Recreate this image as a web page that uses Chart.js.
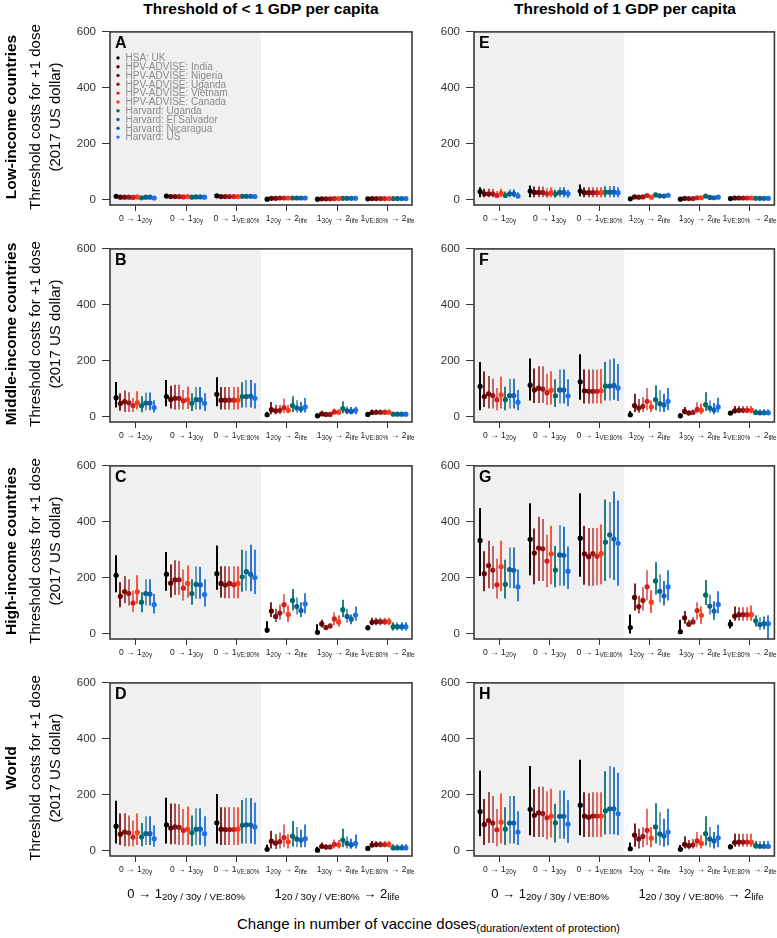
<!DOCTYPE html>
<html><head><meta charset="utf-8">
<script src="https://cdn.jsdelivr.net/npm/chart.js@4/dist/chart.umd.min.js"></script>
<style>
body{margin:0;background:#fff;font-family:"Liberation Sans",Arial,sans-serif;}
#wrap{position:relative;width:777px;height:938px;overflow:hidden;background:#fff;}
canvas{position:absolute;}
.t{position:absolute;white-space:nowrap;color:#000;}
.rot{transform:translate(-50%,-50%) rotate(-90deg);}
.ctr{transform:translate(-50%,-50%);}
sub{font-size:0.75em;vertical-align:-0.25em;line-height:0;}
</style></head>
<body><div id="wrap">
<div class="t ctr" style="left:261px;top:9px;font-weight:bold;font-size:15.5px">Threshold of &lt; 1 GDP per capita</div>
<div class="t ctr" style="left:625px;top:9px;font-weight:bold;font-size:15.5px">Threshold of 1 GDP per capita</div>
</div>
<script>
// ---------- categories ----------
const models = ['HSA: UK','HPV-ADVISE: India','HPV-ADVISE: Nigeria','HPV-ADVISE: Uganda','HPV-ADVISE: Vietnam','HPV-ADVISE: Canada','Harvard: Uganda','Harvard: El Salvador','Harvard: Nicaragua','Harvard: US'];
const groupLabels = [
  [['0 → 1',0],['20y',1]],
  [['0 → 1',0],['30y',1]],
  [['0 → 1',0],['VE:80%',1]],
  [['1',0],['20y',1],[' → 2',0],['life',1]],
  [['1',0],['30y',1],[' → 2',0],['life',1]],
  [['1',0],['VE:80%',1],[' → 2',0],['life',1]]
];
const rowLabels = ['Low-income countries','Middle-income countries','High-income countries','World'];
const yTicks = [0,200,400,600];

// ---------- series values: [group][model] ----------
const A_mid=[[11,8,8,8,7,9,6,8,8,5],[12,10,10,10,9,10,8,9,9,8],[13,10,10,10,10,10,11,11,11,10],[1,4,4,5,5,5,5,5,5,5],[1,2,2,2,3,3,4,4,4,4],[2,3,3,3,3,3,3,3,3,3]];
const A_lo=[[7,5,5,5,4,6,3,5,5,3],[8,6,6,6,5,6,5,5,5,5],[8,6,6,6,6,6,7,7,7,6],[0,3,3,3,3,3,3,3,3,3],[0,1,1,1,2,2,2,2,2,2],[1,2,2,2,2,2,2,2,2,2]];
const A_hi=[[16,12,12,12,11,13,10,12,12,9],[18,14,14,14,13,14,12,13,13,12],[19,14,14,14,14,14,16,16,16,15],[3,6,6,7,8,7,8,7,7,7],[2,4,4,4,5,5,6,6,6,6],[3,4,4,4,4,4,4,4,4,4]];

const B_mid=[[67,46,53,49,39,49,38,48,48,32],[71,61,65,65,56,60,47,60,60,47],[79,58,58,58,58,58,71,71,73,65],[6,24,20,22,32,22,39,31,27,34],[2,9,7,7,16,15,28,20,18,22],[7,14,15,15,15,15,8,8,8,8]];
const B_lo=[[32,20,16,16,16,25,15,22,22,14],[36,28,25,25,25,27,19,25,25,19],[36,25,25,25,25,25,32,32,32,28],[0,8,8,8,11,11,16,13,13,14],[0,2,2,2,8,7,11,8,8,8],[1,6,6,6,6,6,3,3,3,3]];
const B_hi=[[123,83,93,87,66,90,72,86,86,58],[130,110,113,113,95,107,83,105,105,83],[140,105,105,105,105,105,122,130,130,119],[16,52,42,42,64,40,72,58,52,66],[10,20,16,16,28,26,54,36,34,35],[14,25,25,25,25,25,14,14,14,14]];

const C_mid=[[208,133,150,143,109,149,112,143,141,103],[212,180,192,192,162,179,143,176,174,139],[214,179,173,179,174,179,203,221,212,200],[12,80,61,73,103,68,118,96,82,106],[4,34,21,27,52,41,85,61,51,66],[20,40,42,42,42,42,24,24,24,24]];
const C_lo=[[147,94,108,100,76,106,76,100,100,71],[153,129,138,138,118,129,103,124,124,96],[156,129,126,126,126,126,149,153,151,141],[2,59,41,49,71,41,82,68,59,71],[0,21,14,18,29,24,59,38,33,45],[12,29,29,29,29,29,10,10,10,10]];
const C_hi=[[280,183,206,194,153,208,147,194,194,141],[292,247,262,259,229,243,194,241,239,194],[315,241,241,241,241,241,300,296,318,300],[44,112,88,104,141,100,159,129,112,144],[33,49,29,35,76,65,121,88,68,96],[29,56,56,56,56,56,40,40,40,40]];

const D_mid=[[87,58,66,63,48,64,48,60,60,42],[92,80,84,83,71,76,63,76,76,60],[99,76,75,75,75,76,90,92,92,84],[4,33,26,32,46,31,51,41,37,42],[1,15,12,12,22,20,37,25,20,25],[7,19,21,21,21,21,9,9,9,9]];
const D_lo=[[25,19,15,15,15,19,15,19,19,13],[25,22,22,19,19,19,15,19,19,15],[25,19,19,19,19,19,25,25,25,22],[0,7,5,7,11,7,13,11,11,11],[0,6,4,4,7,7,11,7,6,7],[1,11,11,11,11,11,4,4,4,4]];
const D_hi=[[178,132,133,125,107,132,98,122,122,90],[189,168,168,165,148,157,125,151,151,122],[202,155,155,155,155,155,181,188,188,172],[20,70,58,64,93,58,105,84,74,93],[13,28,22,22,39,37,78,51,42,57],[15,34,34,34,34,34,22,22,22,22]];

const E_mid=[[28,20,20,20,14,22,14,20,20,12],[30,25,25,25,20,24,19,25,25,20],[30,24,24,24,24,24,26,26,26,24],[2,9,8,9,14,8,16,13,12,15],[1,4,3,3,6,6,12,7,6,8],[3,5,5,5,5,5,4,4,4,4]];
const E_lo=[[8,8,8,8,6,8,6,8,8,5],[8,8,8,8,6,8,6,8,8,6],[11,8,8,8,8,8,8,8,8,8],[0,5,4,5,8,4,8,6,6,7],[0,2,2,2,3,3,8,4,4,5],[1,4,4,4,4,4,3,3,3,3]];
const E_hi=[[44,38,38,38,30,38,28,36,36,26],[50,46,46,46,40,44,35,44,44,35],[53,44,44,44,44,44,47,48,48,44],[5,14,12,14,20,14,24,20,18,22],[3,6,5,5,9,9,17,11,9,12],[5,8,8,8,8,8,6,6,6,6]];

const F_mid=[[108,71,81,75,60,77,60,75,75,51],[112,95,101,98,85,94,74,95,95,74],[124,92,90,90,90,92,109,109,111,102],[6,39,30,36,54,34,60,46,41,54],[2,18,12,14,25,22,42,30,23,34],[12,20,22,22,22,22,14,13,13,13]];
const F_lo=[[22,34,28,28,22,28,22,28,28,22],[57,48,48,48,41,43,34,46,46,36],[60,46,46,46,46,46,57,57,60,55],[0,16,13,16,22,16,22,16,16,22],[0,8,5,6,11,8,19,13,8,14],[5,11,11,11,11,11,7,7,7,7]];
const F_hi=[[195,161,145,135,102,142,106,135,135,95],[207,172,180,180,153,162,133,168,168,133],[223,168,168,168,168,170,195,204,207,188],[19,81,62,69,102,57,112,95,81,102],[11,34,22,25,51,46,87,57,48,67],[19,37,37,37,37,37,26,26,26,26]];

const G_mid=[[333,214,243,227,174,239,176,229,226,167],[337,288,306,303,259,285,227,281,280,223],[341,285,275,286,276,286,327,353,338,323],[21,129,96,118,167,112,188,151,135,167],[6,56,33,41,82,65,138,98,80,104],[33,62,67,67,67,67,45,32,35,35]];
const G_lo=[[206,151,162,159,125,151,125,162,162,115],[208,176,188,188,165,176,165,171,171,159],[203,174,171,171,173,176,188,198,191,171],[0,82,71,82,118,73,139,112,100,118],[0,35,24,35,49,35,102,68,49,71],[18,45,45,45,45,45,24,12,14,-30]];
const G_hi=[[449,294,332,313,268,332,264,308,308,229],[466,376,418,410,353,386,313,388,382,311],[502,386,378,378,378,390,480,471,508,476],[68,179,135,165,226,155,256,212,188,226],[49,80,49,59,112,96,191,139,115,151],[49,96,94,94,94,100,65,59,61,65]];

const H_mid=[[139,93,107,98,74,101,76,98,98,66],[147,126,135,132,117,123,99,122,122,94],[162,123,119,123,123,123,142,149,149,131],[6,55,41,50,72,44,84,59,52,66],[4,22,17,20,34,25,60,41,34,45],[13,28,30,30,30,29,17,15,15,15]];
const H_lo=[[51,19,27,27,15,25,19,25,25,19],[54,48,48,48,39,46,28,42,42,27],[54,48,48,48,48,48,57,58,58,54],[0,13,7,11,19,11,25,18,13,18],[0,7,4,7,11,7,18,11,7,11],[4,13,13,13,13,13,6,6,6,6]];
const H_hi=[[286,184,209,195,148,204,155,195,195,140],[302,219,228,228,212,221,167,215,215,180],[325,208,205,208,208,208,284,302,298,278],[28,96,78,84,149,84,169,137,113,149],[19,51,37,41,66,54,122,84,66,92],[22,60,60,60,60,60,34,34,34,34]];

// ---------- styles ----------
const modelColors=['#000000','#5e0000','#7c0d0d','#9c1717','#d21f1f','#ff3b1c','#006b6b','#0b5f8f','#0a63b3','#1d70e8'];
const barAlpha=[1,0.85,0.7,0.62,0.62,0.85,0.85,0.6,0.85,0.9];
const FONT='"Liberation Sans", Arial, sans-serif';
Chart.defaults.font.family=FONT;

function rgba(hex,a){const n=parseInt(hex.slice(1),16);return `rgba(${n>>16&255},${n>>8&255},${n&255},${a})`;}
const xOff=m=>(m-4.5)*0.084;

function richText(ctx,segs,cx,cy,main,sub){
  let w=0;
  segs.forEach(([t,s])=>{ctx.font=(s?sub:main)+'px '+FONT;w+=ctx.measureText(t).width;});
  let x=cx-w/2;
  ctx.textBaseline='middle';ctx.textAlign='left';
  segs.forEach(([t,s])=>{ctx.font=(s?sub:main)+'px '+FONT;ctx.fillText(t,x,cy+(s?2:0));x+=ctx.measureText(t).width;});
}

const panelPlugin={
  id:'panel',
  beforeDatasetsDraw(chart,args,o){
    const {ctx,chartArea:a,scales:{x,y}}=chart;
    ctx.save();
    ctx.fillStyle='#f0f0f0';
    ctx.fillRect(a.left,a.top,x.getPixelForValue(3.5)-a.left,a.bottom-a.top);
    ctx.beginPath();ctx.rect(a.left,a.top,a.right-a.left,a.bottom-a.top);ctx.clip();
    ctx.lineWidth=2;ctx.lineCap='butt';
    for(let m=0;m<models.length;m++){
      ctx.strokeStyle=rgba(modelColors[m],barAlpha[m]);
      for(let g=0;g<groupLabels.length;g++){
        const px=Math.round(x.getPixelForValue(g+1+xOff(m)));
        ctx.beginPath();
        ctx.moveTo(px,y.getPixelForValue(o.lo[g][m]));
        ctx.lineTo(px,y.getPixelForValue(o.hi[g][m]));
        ctx.stroke();
      }
    }
    ctx.restore();
  },
  afterDraw(chart,args,o){
    const {ctx,chartArea:a,scales:{x}}=chart;
    ctx.save();
    ctx.strokeStyle='#3a3a3a';ctx.lineWidth=1.6;
    ctx.strokeRect(a.left,a.top,a.right-a.left,a.bottom-a.top);
    ctx.fillStyle='#000';ctx.font='bold 16px '+FONT;ctx.textBaseline='top';ctx.textAlign='left';
    ctx.fillText(o.letter,a.left+5,a.top+4);
    if(o.legend){
      models.forEach((name,i)=>{
        const yy=a.top+26+i*8.8;
        ctx.fillStyle=modelColors[i];ctx.beginPath();ctx.arc(a.left+8,yy,1.7,0,Math.PI*2);ctx.fill();
        ctx.fillStyle='#8a8a8a';ctx.font='10px '+FONT;ctx.textBaseline='middle';
        ctx.fillText(name,a.left+15.5,yy+0.5);
      });
    }
    ctx.strokeStyle='#333';ctx.lineWidth=1;ctx.fillStyle='#222';
    groupLabels.forEach((segs,g)=>{
      const px=Math.round(x.getPixelForValue(g+1))+0.5;
      ctx.beginPath();ctx.moveTo(px,a.bottom);ctx.lineTo(px,a.bottom+6);ctx.stroke();
      richText(ctx,segs,px,a.bottom+14,8.6,6.4);
    });
    ctx.restore();
  }
};

const panels=[
  {id:'A',mid:A_mid,lo:A_lo,hi:A_hi,col:0,row:0},
  {id:'B',mid:B_mid,lo:B_lo,hi:B_hi,col:0,row:1},
  {id:'C',mid:C_mid,lo:C_lo,hi:C_hi,col:0,row:2},
  {id:'D',mid:D_mid,lo:D_lo,hi:D_hi,col:0,row:3},
  {id:'E',mid:E_mid,lo:E_lo,hi:E_hi,col:1,row:0},
  {id:'F',mid:F_mid,lo:F_lo,hi:F_hi,col:1,row:1},
  {id:'G',mid:G_mid,lo:G_lo,hi:G_hi,col:1,row:2},
  {id:'H',mid:H_mid,lo:H_lo,hi:H_hi,col:1,row:3}
];
const wrap=document.getElementById('wrap');
const colGeom=[{left:0,width:420,yw:110,pr:8},{left:420,width:357,yw:54,pr:1}];
const rowTop=[29,246,463,680];
const AREA_H=176, PADT=10, PADB=32;

panels.forEach(p=>{
  const cg=colGeom[p.col];
  const cv=document.createElement('canvas');
  cv.width=cg.width;cv.height=PADT+AREA_H+PADB;
  cv.style.left=cg.left+'px';cv.style.top=(rowTop[p.row]-PADT)+'px';
  wrap.appendChild(cv);
  const datasets=models.map((name,m)=>({
    label:name,
    data:p.mid.map((row,g)=>({x:g+1+xOff(m),y:row[m]})),
    backgroundColor:modelColors[m],borderWidth:0,pointRadius:2.6,pointHoverRadius:2.6,showLine:false
  }));
  new Chart(cv,{
    type:'scatter',
    data:{datasets},
    options:{
      responsive:false,animation:false,devicePixelRatio:1,
      layout:{padding:{top:PADT,right:cg.pr,bottom:PADB,left:0}},
      plugins:{legend:{display:false},tooltip:{enabled:false},
        panel:{letter:p.id,lo:p.lo,hi:p.hi,legend:p.id==='A'}},
      scales:{
        x:{type:'linear',min:0.5,max:6.5,display:false},
        y:{type:'linear',min:-20,max:600,
          afterBuildTicks:s=>{s.ticks=yTicks.map(v=>({value:v}));},
          afterFit:s=>{s.width=cg.yw;},
          grid:{display:true,drawOnChartArea:false,drawTicks:true,tickLength:8,tickColor:'#333',lineWidth:1},
          border:{display:false},
          ticks:{color:'#333',font:{size:11.5},padding:6}
        }
      }
    },
    plugins:[panelPlugin]
  });
});

// row labels and axis titles
rowLabels.forEach((lab,r)=>{
  const cy=rowTop[r]+AREA_H/2;
  const add=(html,x,style)=>{const d=document.createElement('div');d.className='t rot';d.style.cssText=`left:${x}px;top:${cy}px;`+style;d.innerHTML=html;wrap.appendChild(d);};
  add(lab,11,'font-weight:bold;font-size:15.5px');
  add('Threshold costs for +1 dose',34,'font-size:15px');
  add('(2017 US dollar)',54,'font-size:15px');
});
// bottom group labels
const bottomLabels=['0 → 1<sub>20y / 30y / VE:80%</sub>','1<sub>20 / 30y / VE:80%</sub> → 2<sub>life</sub>'];
[[186,337],[550,701]].forEach(xs=>{
  xs.forEach((x,i)=>{const d=document.createElement('div');d.className='t ctr';d.style.cssText=`left:${x}px;top:893px;font-size:13px`;d.innerHTML=bottomLabels[i];wrap.appendChild(d);});
});
const xt=document.createElement('div');xt.className='t';
xt.style.cssText='left:237px;top:915px;font-size:15px';
xt.innerHTML='Change in number of vaccine doses<sub style="font-size:11px">(duration/extent of protection)</sub>';
wrap.appendChild(xt);
</script>
</body></html>
